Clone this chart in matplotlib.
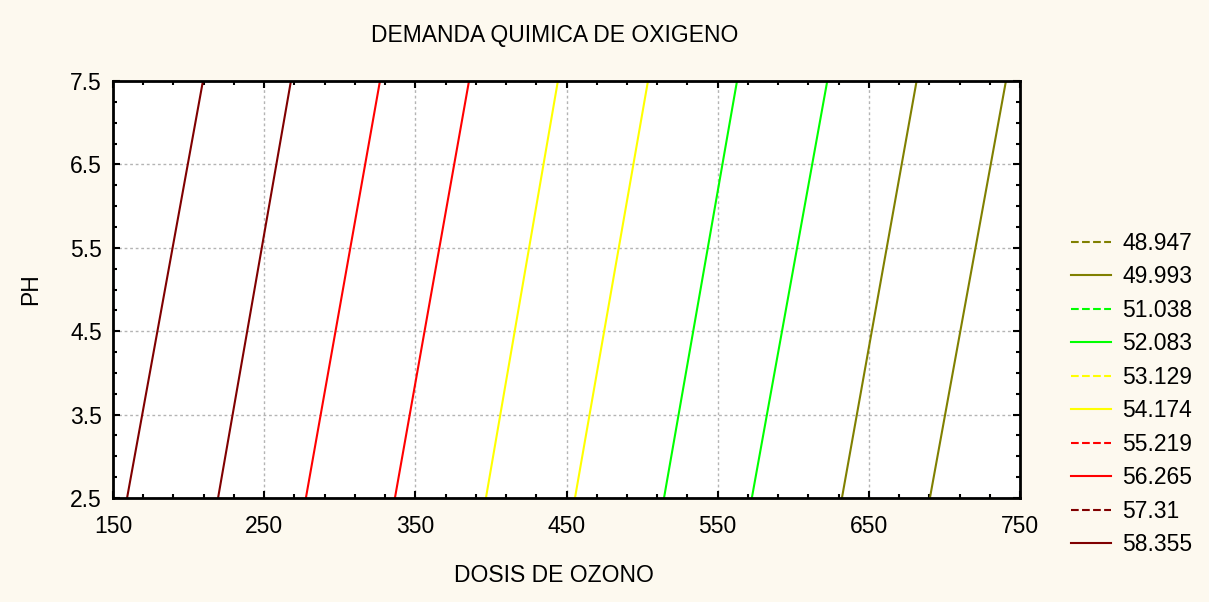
import numpy as np
import matplotlib
matplotlib.use("Agg")
import matplotlib.pyplot as plt
from matplotlib.lines import Line2D

plt.rcParams['font.family'] = ['Liberation Sans', 'DejaVu Sans']

# contour levels (legend), colours per level
levels = [48.947, 49.993, 51.038, 52.083, 53.129, 54.174, 55.219, 56.265, 57.31, 58.355]
level_colors = ['#808000', '#808000', '#00ff00', '#00ff00', '#ffff00', '#ffff00',
                '#ff0000', '#ff0000', '#800000', '#800000']
level_styles = ['--', '-', '--', '-', '--', '-', '--', '-', '--', '-']

# visible contour lines: ozone dose at PH 2.5 and PH 7.5
ph_ends = [2.5, 7.5]
line_colors = ['#800000', '#800000', '#ff0000', '#ff0000', '#ffff00', '#ffff00',
               '#00ff00', '#00ff00', '#808000', '#808000']
dose_bottom = [159.3, 219.5, 277.6, 336.5, 396.7, 455.6, 514.5, 572.6, 632.2, 690.4]
dose_top = [209.5, 267.7, 326.6, 385.5, 444.3, 503.9, 562.8, 622.5, 681.6, 740.7]

x_ticks = [150, 250, 350, 450, 550, 650, 750]
y_ticks = [2.5, 3.5, 4.5, 5.5, 6.5, 7.5]

bg = '#fdf9ef'
fs = 16.5
fig = plt.figure(figsize=(12.09, 6.02), dpi=100, facecolor=bg)
ax = fig.add_axes([113/1209, 1 - 498/602, 907/1209, 417/602])
ax.set_facecolor('white')

for c, x0, x1 in zip(line_colors, dose_bottom, dose_top):
    ax.plot([x0, x1], ph_ends, color=c, lw=1.5)

ax.set_xlim(150, 750)
ax.set_ylim(2.5, 7.5)
ax.set_xticks(x_ticks)
ax.set_xticks(np.arange(150, 751, 20), minor=True)
ax.set_yticks(y_ticks)
ax.set_yticks(np.arange(2.5, 7.51, 0.25), minor=True)
ax.set_yticklabels([str(v) for v in y_ticks])
ax.tick_params(which='both', direction='in', top=True, right=True, labelsize=fs, width=1.5)
ax.tick_params(which='major', length=5, pad=8)
ax.tick_params(axis='x', which='major', pad=12)
ax.tick_params(which='minor', length=3)
ax.grid(True, which='major', ls=(0, (2, 2)), color='#b4b4b4', lw=1)
for s in ax.spines.values():
    s.set_linewidth(2)

ax.set_title('DEMANDA QUIMICA DE OXIGENO', fontsize=fs, pad=28, x=0.487)
ax.set_xlabel('DOSIS DE OZONO', fontsize=fs, labelpad=19, x=0.486)
ax.set_ylabel('PH', fontsize=fs, labelpad=20)

handles = [Line2D([], [], color=c, ls=s, lw=1.5) for c, s in zip(level_colors, level_styles)]
fig.legend(handles, [str(v) for v in levels], loc='center left',
           bbox_to_anchor=(1050/1209, 1 - 394/602), frameon=False, fontsize=fs,
           handlelength=1.75, labelspacing=0.46, handletextpad=0.5)

fig.savefig('out.png', dpi=100, facecolor=bg)
